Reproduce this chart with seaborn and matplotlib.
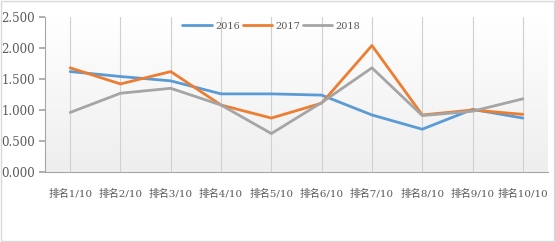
import numpy as np
import pandas as pd
import matplotlib
matplotlib.use("Agg")
import matplotlib.pyplot as plt
import seaborn as sns
from matplotlib.patches import Rectangle
from matplotlib.colors import LinearSegmentedColormap

categories = ["排名1/10", "排名2/10", "排名3/10", "排名4/10", "排名5/10",
              "排名6/10", "排名7/10", "排名8/10", "排名9/10", "排名10/10"]
s2016 = [1.62, 1.54, 1.47, 1.26, 1.26, 1.24, 0.92, 0.69, 1.01, 0.87]
s2017 = [1.68, 1.42, 1.62, 1.08, 0.87, 1.11, 2.04, 0.92, 1.00, 0.93]
s2018 = [0.96, 1.27, 1.35, 1.08, 0.62, 1.12, 1.68, 0.91, 0.98, 1.18]
series_names = ["2016", "2017", "2018"]
yticks = [0.0, 0.5, 1.0, 1.5, 2.0, 2.5]

sns.set_theme(style="white")
plt.rcParams['font.family'] = ['DejaVu Serif', 'Noto Sans CJK SC']

rows = []
for name, vals in zip(series_names, [s2016, s2017, s2018]):
    for i, (c, v) in enumerate(zip(categories, vals)):
        rows.append({"cat": i, "label": c, "value": v, "year": name})
df = pd.DataFrame(rows)

palette = {"2016": "#5B9BD5", "2017": "#ED7D31", "2018": "#A5A5A5"}
text_color = "#595959"

fig = plt.figure(figsize=(5.55, 2.42), dpi=100)
ax = fig.add_axes([45/555, 1 - 172/242, (548-45)/555, (172-17)/242])

# subtle gradient background of plot area
cmap = LinearSegmentedColormap.from_list("bg", ["#ffffff", "#eeeeee"])
ax.imshow(np.linspace(0, 1, 256).reshape(-1, 1), aspect="auto", cmap=cmap,
          extent=[-0.5, 9.5, 0, 2.5], origin="upper", zorder=0)

for i in range(len(categories)):
    ax.axvline(i, color="#d0d0d0", lw=0.8, zorder=1)

sns.lineplot(data=df, x="cat", y="value", hue="year", palette=palette,
             lw=2.0, ax=ax, zorder=3, legend=True)

ax.set_xlim(-0.5, 9.5)
ax.set_ylim(0, 2.5)
ax.set_yticks(yticks)
ax.set_yticklabels([f"{t:.3f}" for t in yticks], color=text_color, fontsize=8.5)
ax.set_xticks(range(len(categories)))
ax.set_xticklabels(categories, color=text_color, fontsize=7.5)
ax.set_xlabel("")
ax.set_ylabel("")
for s in ["top", "right"]:
    ax.spines[s].set_visible(False)
for s in ["left", "bottom"]:
    ax.spines[s].set_color("#a6a6a6")
    ax.spines[s].set_linewidth(0.8)
ax.tick_params(axis="y", which="both", left=True, length=4, color="#a6a6a6", pad=3)
ax.tick_params(axis="x", bottom=False, pad=6)

leg = ax.legend(loc="upper center", bbox_to_anchor=(0.45, 1.0), ncol=3,
                frameon=False, fontsize=7, handlelength=3.0, columnspacing=0.3,
                handletextpad=0.35, borderaxespad=0.1)
for t in leg.get_texts():
    t.set_color(text_color)

fig.patches.append(Rectangle((0.002, 0.004), 0.996, 0.992, transform=fig.transFigure,
                             fill=False, edgecolor="#d9d9d9", lw=1))

fig.savefig("out.png", dpi=100)
